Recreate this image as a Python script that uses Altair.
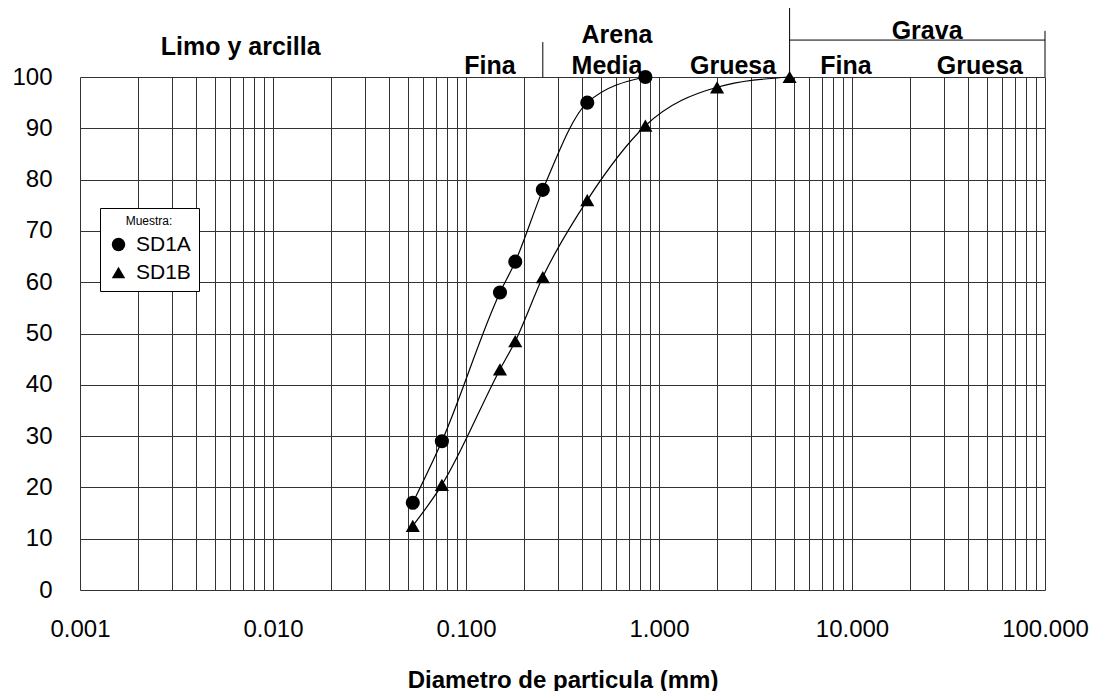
import altair as alt
import pandas as pd

# --- data ---
sizes = [0.053, 0.075, 0.15, 0.18, 0.25, 0.425, 0.85, 2.0, 4.75]
sd1a = [17.0, 29.0, 58.0, 64.0, 78.0, 95.0, 100.0]
sd1b = [12.5, 20.5, 43.0, 48.5, 61.0, 76.0, 90.5, 98.0, 100.0]
series = ["SD1A", "SD1B"]

# axis ticks / grid
x_ticks = [round(m * 10.0 ** k, 6) for k in range(-3, 2) for m in range(1, 10)] + [100.0]
y_ticks = list(range(0, 101, 10))

# header annotations (soil classes)
header_labels = ["Limo y arcilla", "Arena", "Fina", "Media", "Gruesa", "Grava", "Fina", "Gruesa"]
header_x = [0.0068, 0.605, 0.133, 0.538, 2.42, 24.5, 9.31, 46.0]
header_y = [105.8, 108.2, 102.1, 102.1, 102.1, 109.0, 102.1, 102.1]

hrule_x = [0.0081, 4.75]
hrule_x2 = [4.75, 100.0]
hrule_y = [114.0, 107.2]
vrule_x = [0.25, 4.75, 100.0]
vrule_y = [100.0, 100.0, 100.0]
vrule_y2 = [106.8, 114.0, 109.0]

rows = [{"size": s, "pct": p, "Muestra": "SD1A"} for s, p in zip(sizes, sd1a)]
rows += [{"size": s, "pct": p, "Muestra": "SD1B"} for s, p in zip(sizes, sd1b)]
df = pd.DataFrame(rows)
hdr = pd.DataFrame({"label": header_labels, "x": header_x, "y": header_y})
hr = pd.DataFrame({"x": hrule_x, "x2": hrule_x2, "y": hrule_y})
vr = pd.DataFrame({"x": vrule_x, "y": vrule_y, "y2": vrule_y2})

xscale = alt.Scale(type="log", domain=[0.001, 100], nice=False)
yscale = alt.Scale(domain=[0, 100], nice=False)

label_expr = ("abs(log(datum.value)/LN10 - round(log(datum.value)/LN10)) < 0.001"
              " ? format(datum.value, '.3f') : ''")

xaxis = alt.Axis(values=x_ticks, labelExpr=label_expr, grid=True, gridColor="#333333",
                 gridWidth=1, ticks=False, domain=False, labelOverlap=False,
                 labelFlush=False, labelFontSize=24, labelPadding=27, labelColor="black",
                 title="Diametro de particula (mm)", titleFontSize=24,
                 titleFontWeight="bold", titlePadding=27, titleColor="black")
yaxis = alt.Axis(values=y_ticks, grid=True, gridColor="#333333", gridWidth=1,
                 ticks=False, domain=False, labelFontSize=24, labelPadding=28,
                 labelColor="black", title=None)

lines = alt.Chart(df).mark_line(color="black", strokeWidth=1.2, interpolate="monotone").encode(
    x=alt.X("size:Q", scale=xscale, axis=xaxis),
    y=alt.Y("pct:Q", scale=yscale, axis=yaxis),
    detail="Muestra:N",
)

points = alt.Chart(df).mark_point(filled=True, color="black", opacity=1, size=200).encode(
    x=alt.X("size:Q", scale=xscale),
    y=alt.Y("pct:Q", scale=yscale),
    shape=alt.Shape(
        "Muestra:N",
        scale=alt.Scale(domain=series, range=["circle", "triangle-up"]),
        legend=alt.Legend(title="Muestra:", orient="none", legendX=20, legendY=131,
                          strokeColor="black", fillColor="white", padding=8,
                          titleFontSize=12, titleFontWeight="normal", titleAnchor="middle",
                          titleColor="black", titlePadding=6,
                          labelFontSize=21, labelColor="black", labelOffset=7,
                          symbolSize=180, symbolFillColor="black", symbolStrokeColor="black",
                          symbolOpacity=1, rowPadding=6),
    ),
)

header = alt.Chart(hdr).mark_text(fontSize=25, fontWeight="bold", baseline="middle",
                                  align="center", color="black").encode(
    x=alt.X("x:Q", scale=xscale),
    y=alt.Y("y:Q", scale=yscale),
    text="label:N",
)

hrules = alt.Chart(hr).mark_rule(color="black", strokeWidth=1).encode(
    x=alt.X("x:Q", scale=xscale), x2="x2:Q", y=alt.Y("y:Q", scale=yscale)
)
vrules = alt.Chart(vr).mark_rule(color="black", strokeWidth=1).encode(
    x=alt.X("x:Q", scale=xscale), y=alt.Y("y:Q", scale=yscale), y2="y2:Q"
)

chart = alt.layer(lines, points, header, hrules, vrules).properties(
    width=965, height=513,
    autosize=alt.AutoSizeParams(type="none"),
    padding={"left": 72, "top": 69, "right": 54, "bottom": 101},
).configure(font="Liberation Sans").configure_view(stroke=None)

chart.save("out.html", embed_options={"renderer": "svg", "actions": False})
